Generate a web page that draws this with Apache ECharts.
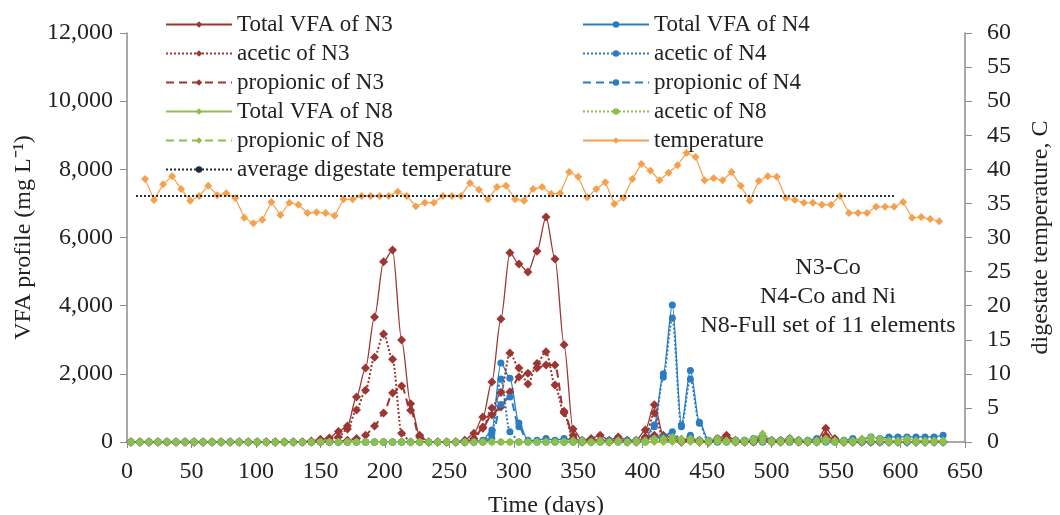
<!DOCTYPE html>
<html>
<head>
<meta charset="utf-8">
<script src="https://cdn.jsdelivr.net/npm/echarts@6/dist/echarts.min.js"></script>
<style>html,body{margin:0;padding:0;background:#fff}#c{width:1060px;height:515px}</style>
</head>
<body>
<div id="c"></div>
<script>
// VFA sampling days
const vfaDays = [3,10,17,24,31,38,45,52,59,66,
  73,80,87,94,101,108,115,122,129,136,
  143,150,157,164,171,178,185,192,199,206,
  213,220,227,234,241,248,255,262,269,276,
  283,290,297,304,311,318,325,332,339,346,
  353,360,367,374,381,388,395,402,409,416,
  423,430,437,444,451,458,465,472,479,486,
  493,500,507,514,521,528,535,542,549,556,
  563,570,577,584,591,598,605,612,619,626,633];
const totalN3 = [0,0,0,0,0,0,0,0,0,0,
  0,0,0,0,0,0,0,0,0,0,
  30,80,120,310,470,1320,2170,3670,5290,5630,
  2990,1120,200,0,0,0,0,50,260,730,
  1760,3610,5550,5220,4990,5600,6600,5370,2850,380,
  50,100,200,50,150,50,50,350,1090,200,
  150,50,100,50,0,100,200,50,0,50,
  100,50,50,100,50,0,50,400,100,0,
  0,0,0,0,0,0,0,0,0,0,0];
const aceticN3 = [0,0,0,0,0,0,0,0,0,0,
  0,0,0,0,0,0,0,0,0,0,
  0,0,50,150,380,940,1520,2490,3170,2430,
  260,0,0,0,0,0,0,0,100,400,
  1000,1450,2610,2170,1700,2300,2650,1670,850,100,
  0,0,50,0,50,0,0,150,850,100,
  50,0,50,0,0,50,100,0,0,0,
  50,0,0,50,0,0,0,200,50,0,
  0,0,0,0,0,0,0,0,0,0,0];
const propionicN3 = [0,0,0,0,0,0,0,0,0,0,
  0,0,0,0,0,0,0,0,0,0,
  0,0,0,0,50,100,200,470,850,1440,
  1640,930,150,0,0,0,0,0,50,440,
  790,1030,1470,1910,2020,2170,2260,2260,900,200,
  0,50,50,0,50,0,0,100,200,50,
  50,0,50,0,0,50,50,0,0,0,
  50,0,0,50,0,0,0,150,50,0,
  0,0,0,0,0,0,0,0,0,0,0];
const totalN4 = [0,0,0,0,0,0,0,0,0,0,
  0,0,0,0,0,0,0,0,0,0,
  0,0,0,0,0,0,0,0,0,0,
  0,0,0,0,0,0,0,0,0,50,
  350,2320,1870,560,50,50,100,50,100,50,
  50,50,50,50,50,50,50,100,500,2000,
  4020,500,2100,580,50,100,50,50,50,100,
  150,50,50,100,50,50,100,50,50,50,
  100,50,150,100,150,150,150,150,150,150,200];
const aceticN4 = [0,0,0,0,0,0,0,0,0,0,
  0,0,0,0,0,0,0,0,0,0,
  0,0,0,0,0,0,0,0,0,0,
  0,0,0,0,0,0,0,0,0,0,
  250,1850,300,0,0,0,0,0,0,0,
  0,0,0,0,0,0,0,50,450,1900,
  3640,450,1850,550,0,0,0,0,0,0,
  0,0,0,0,0,0,0,0,0,0,
  0,0,0,0,0,0,0,0,0,0,0];
const propionicN4 = [0,0,0,0,0,0,0,0,0,0,
  0,0,0,0,0,0,0,0,0,0,
  0,0,0,0,0,0,0,0,0,0,
  0,0,0,0,0,0,0,0,0,0,
  100,1100,1320,450,0,0,0,0,0,0,
  0,0,0,0,0,0,0,0,100,150,
  300,50,200,50,0,0,0,0,0,0,
  0,0,0,0,0,0,0,0,0,0,
  0,0,0,0,0,0,0,0,0,0,0];
const totalN8 = [0,0,0,0,0,0,0,0,0,0,
  0,0,0,0,0,0,0,0,0,0,
  0,0,0,0,0,0,0,0,0,0,
  0,0,0,0,0,0,0,0,0,0,
  0,0,0,0,0,0,0,0,0,50,
  50,0,50,0,50,0,50,50,100,100,
  150,100,100,50,50,100,50,50,50,100,
  250,50,50,100,50,50,50,100,50,50,
  50,100,150,100,50,50,100,50,50,50,50];
const aceticN8 = [0,0,0,0,0,0,0,0,0,0,
  0,0,0,0,0,0,0,0,0,0,
  0,0,0,0,0,0,0,0,0,0,
  0,0,0,0,0,0,0,0,0,0,
  0,0,0,0,0,0,0,0,0,0,
  0,0,0,0,0,0,0,0,50,50,
  50,50,50,0,0,50,0,0,0,50,
  100,0,0,50,0,0,0,50,0,0,
  0,50,50,50,0,0,50,0,0,0,0];
const propionicN8 = [0,0,0,0,0,0,0,0,0,0,
  0,0,0,0,0,0,0,0,0,0,
  0,0,0,0,0,0,0,0,0,0,
  0,0,0,0,0,0,0,0,0,0,
  0,0,0,0,0,0,0,0,0,0,
  0,0,0,0,0,0,0,0,0,0,
  0,0,0,0,0,0,0,0,0,0,
  0,0,0,0,0,0,0,0,0,0,
  0,0,0,0,0,0,0,0,0,0,0];
// temperature sampling days and values
const tempDays = [14,21,28,35,42,49,56,63,70,77,
  84,91,98,105,112,119,126,133,140,147,
  154,161,168,175,182,189,196,203,210,217,
  224,231,238,245,252,259,266,273,280,287,
  294,301,308,315,322,329,336,343,350,357,
  364,371,378,385,392,399,406,413,420,427,
  434,441,448,455,462,469,476,483,490,497,
  504,511,518,525,532,539,546,553,560,567,
  574,581,588,595,602,609,616,623,630];
const temperature = [38.6,35.5,37.8,39.0,37.1,35.4,36.1,37.6,36.2,36.5,
  35.8,32.9,32.1,32.6,35.2,33.3,35.1,34.8,33.6,33.7,
  33.6,33.2,35.6,35.6,36.1,36.1,36.1,36.1,36.7,36.1,
  34.6,35.1,35.1,36.1,36.1,36.1,38.0,37.0,35.6,37.4,
  37.6,35.6,35.4,37.1,37.4,36.4,36.5,39.6,38.9,35.9,
  37.1,38.1,34.9,35.8,38.6,40.8,39.8,38.4,39.5,40.6,
  42.4,41.8,38.4,38.7,38.4,39.6,37.6,35.4,38.3,39.0,
  38.9,35.8,35.5,35.1,35.1,34.8,34.8,36.1,33.6,33.6,
  33.6,34.5,34.5,34.5,35.2,32.9,33.0,32.7,32.4];
const avgDays = [7, 595];
const avgTemp = [36.1, 36.1];
const annotation = ['N3-Co', 'N4-Co and Ni', 'N8-Full set of 11 elements'];

const RED = '#9c3632', BLUE = '#2a7cc4', GREEN = '#8dbf4b', ORANGE = '#f5a04c', NAVY = '#1d2b3f';
const FONT = 'Liberation Serif';

function pairs(xs, ys){ return xs.map((x,i)=>[x, ys[i]]); }
function vfa(name, ys, color, type, symbol, size, width){
  return {name, type:'line', data: pairs(vfaDays, ys), yAxisIndex:0,
    smooth:0.3, smoothMonotone:'x', symbol, symbolSize:size, showSymbol:true,
    lineStyle:{color, width, type}, itemStyle:{color}, animation:false, z:2};
}

const chart = echarts.init(document.getElementById('c'));
chart.setOption({
  animation:false,
  textStyle:{fontFamily:FONT},
  grid:{left:127, right:95, top:33, bottom:73, containLabel:false, outerBoundsMode:'none'},
  legend:[
    {orient:'vertical', left:160, top:8, itemWidth:66, itemHeight:8, itemGap:6,
     textStyle:{fontFamily:FONT, fontSize:23, color:'#222'},
     data:['Total VFA of N3','acetic of N3','propionic of N3','Total VFA of N8','propionic of N8','average digestate temperature']},
    {orient:'vertical', left:577, top:8, itemWidth:66, itemHeight:8, itemGap:6,
     textStyle:{fontFamily:FONT, fontSize:23, color:'#222'},
     data:['Total VFA of N4','acetic of N4','propionic of N4','acetic of N8','temperature']}
  ],
  xAxis:{type:'value', min:0, max:650, interval:50,
    name:'Time (days)', nameLocation:'middle', nameGap:52,
    nameTextStyle:{fontFamily:FONT, fontSize:24, color:'#222'},
    axisLine:{lineStyle:{color:'#8c8c8c', width:1.5}},
    axisTick:{show:true, length:6, lineStyle:{color:'#8c8c8c'}},
    axisLabel:{fontFamily:FONT, fontSize:24, color:'#222', margin:18},
    splitLine:{show:false}},
  yAxis:[
    {type:'value', min:0, max:12000, interval:2000, position:'left',
     name:'VFA profile (mg L\u207B\u00B9)', nameLocation:'middle', nameGap:90, nameRotate:90,
     nameTextStyle:{fontFamily:FONT, fontSize:24, color:'#222'},
     axisLine:{show:true, lineStyle:{color:'#8c8c8c', width:1.5}},
     axisTick:{show:true, length:7, lineStyle:{color:'#8c8c8c'}},
     axisLabel:{fontFamily:FONT, fontSize:24, color:'#222', margin:14,
       formatter:v=>v.toLocaleString('en-US')},
     splitLine:{show:false}},
    {type:'value', min:0, max:60, interval:5, position:'right',
     name:'digestate temperature, C', nameLocation:'middle', nameGap:64, nameRotate:90,
     nameTextStyle:{fontFamily:FONT, fontSize:24, color:'#222'},
     axisLine:{show:true, lineStyle:{color:'#8c8c8c', width:1.5}},
     axisTick:{show:true, length:7, lineStyle:{color:'#8c8c8c'}},
     axisLabel:{fontFamily:FONT, fontSize:24, color:'#222', margin:22},
     splitLine:{show:false}}
  ],
  graphic: annotation.map((t,i)=>({type:'text', x:828, y:268+i*29,
    style:{text:t, fontFamily:FONT, fontSize:24, fill:'#222', textAlign:'center', textVerticalAlign:'middle'}})),
  series:[
    vfa('Total VFA of N3', totalN3, RED, 'solid', 'diamond', 9, 1.3),
    vfa('Total VFA of N4', totalN4, BLUE, 'solid', 'circle', 7, 1.3),
    vfa('acetic of N3', aceticN3, RED, 'dotted', 'diamond', 9, 2),
    vfa('acetic of N4', aceticN4, BLUE, 'dotted', 'circle', 7, 2),
    vfa('propionic of N3', propionicN3, RED, [8,5], 'diamond', 9, 2),
    vfa('propionic of N4', propionicN4, BLUE, [8,5], 'circle', 7, 2),
    vfa('Total VFA of N8', totalN8, GREEN, 'solid', 'diamond', 8, 1.3),
    vfa('acetic of N8', aceticN8, GREEN, 'dotted', 'circle', 7, 2),
    vfa('propionic of N8', propionicN8, GREEN, [8,5], 'diamond', 8, 2),
    {name:'temperature', type:'line', yAxisIndex:1, data:pairs(tempDays, temperature),
     symbol:'diamond', symbolSize:8, lineStyle:{color:ORANGE, width:1.2}, itemStyle:{color:ORANGE}, z:3},
    {name:'average digestate temperature', type:'line', yAxisIndex:1, data:pairs(avgDays, avgTemp),
     symbol:'none', lineStyle:{color:NAVY, width:2, type:'dotted'}, itemStyle:{color:NAVY}, z:4}
  ]
});
</script>
</body>
</html>
